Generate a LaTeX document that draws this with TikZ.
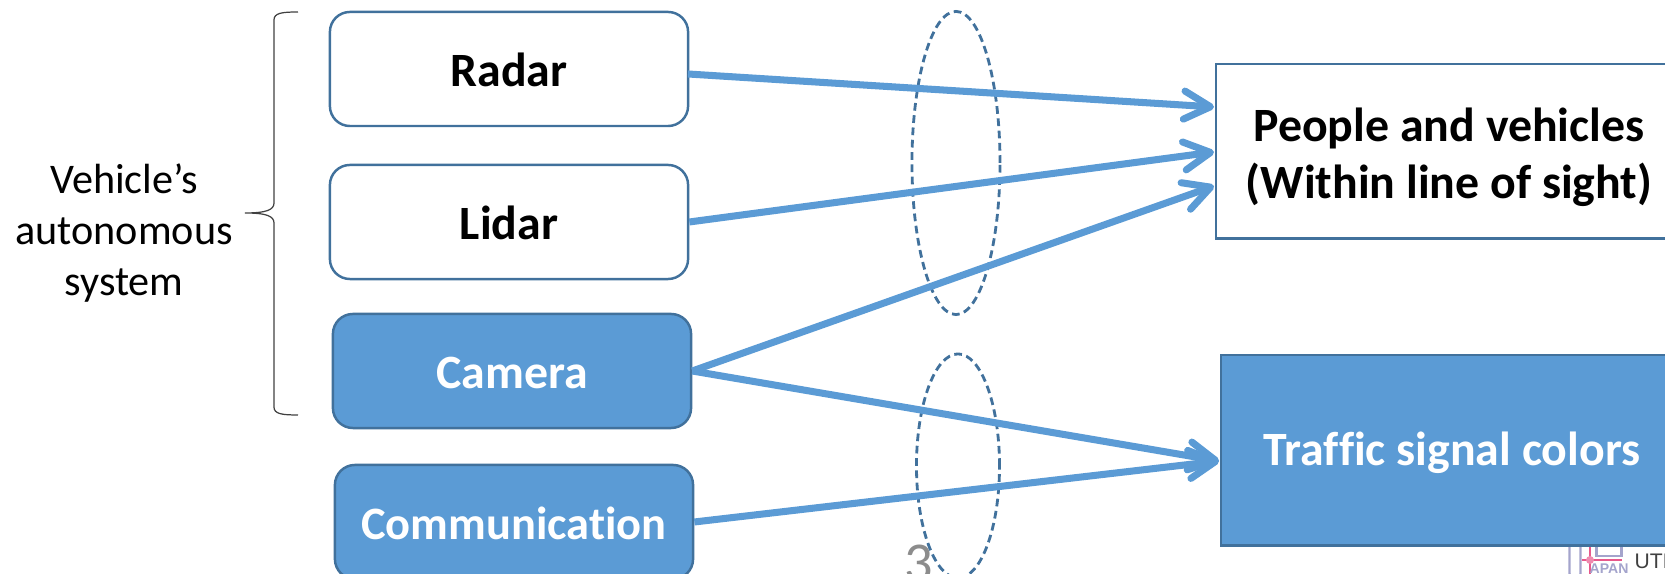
\documentclass[tikz,border=0pt]{standalone}
\usepackage{fontspec}
\setmainfont[Ligatures=NoCommon]{Carlito}
\newfontfamily\logofont{Liberation Sans}
\usepackage{tikz}
\usetikzlibrary{shapes,arrows.meta}
\definecolor{boxBlue}{HTML}{5B9BD5}
\definecolor{edgeBlue}{HTML}{41719C}
\definecolor{logoGray}{HTML}{A4A4CC}
\definecolor{logoPink}{HTML}{E8588C}
\pgfmathsetmacro{\boxWidth}{3.58}
\pgfmathsetmacro{\boxHeight}{1.14}
\tikzset{
	sensor/.style= {
		shape=rectangle, draw=edgeBlue,
		rounded corners=0.2cm, line width=0.7pt,
		minimum width=\boxWidth cm, minimum height=\boxHeight cm,
		inner sep=0, text height=10pt, text depth=0pt
	},
	sensorOn/.style= {
		sensor, fill=boxBlue
	},
	target/.style= {
		shape=rectangle, draw=edgeBlue,
		line width=0.7pt, inner sep=0
	},
	caption/.style= {
		inner sep=0, align=center,
		font=\fontsize{13.6}{15.4}\selectfont\bfseries
	},
	scan/.style= {
		shape=ellipse, draw=edgeBlue,
		dash pattern=on 2.2pt off 1.3pt,
		line width=0.8pt, inner sep=0
	},
	feed/.style= {
		draw=boxBlue, line width=2pt, -{Straight Barb[length=7.5pt,width=8pt,round]}
	}
}
\begin{document}
\begin{tikzpicture}[x=0.01cm,y=-0.01cm]
\path[use as bounding box,clip] (0,0) rectangle (1665,574);

% logo in the corner
\node[draw=logoGray,rounded corners=1pt,line width=0.6pt,minimum width=0.11cm,minimum height=0.5cm,inner sep=0] (logoBar) at (1575,552) {};
\node[draw=logoGray,line width=0.6pt,minimum width=0.25cm,minimum height=0.3cm,inner sep=0] (logoTop) at (1609,541) {};
\draw[logoPink,line width=0.7pt] (1590,530) -- (1590,574) (1582,560) -- (1622,560);
\node[circle,fill=logoPink!70!white,minimum size=0.08cm,inner sep=0] (logoDot) at (1590,560) {};
\node[text=logoGray,inner sep=0,font=\logofont\fontsize{4}{5}\selectfont\bfseries] (logoJapan) at (1609,569) {APAN};
\node[text=black!75,inner sep=0,anchor=west,font=\logofont\fontsize{6}{8}\selectfont] (logoText) at (1634,561) {UTM};

% page number
\node[text=black!45,inner sep=0,font=\fontsize{16}{18}\selectfont] (pageNum) at (919,563) {3};

% dashed rings
\node[scan,minimum width=0.88cm,minimum height=3.03cm] (ringTop) at (956,163) {};
\node[scan,minimum width=0.83cm,minimum height=2.24cm] (ringLow) at (958,466) {};

% left column
\node[sensor,caption] (radar) at (509,69) {Radar};
\node[sensor,caption] (lidar) at (509,222) {Lidar};
\node[sensorOn,caption,text=white] (camera) at (512,371) {Camera};
\node[sensorOn,caption,text=white,font=\fontsize{13.2}{15}\selectfont\bfseries] (comm) at (514,522) {Communication};

% right column
\node[target,minimum width=4.9cm,minimum height=1.74cm,anchor=north west] (people) at (1215,63) {};
\node[caption,font=\fontsize{13.6}{16.1}\selectfont\bfseries] (peopleText) at (1449,157) {People and vehicles\\(Within line of sight)};
\node[target,fill=boxBlue,minimum width=4.9cm,minimum height=1.9cm,anchor=north west] (signal) at (1220,354) {};
\node[caption,text=white] (signalText) at (1452,453) {Traffic signal colors};

\coordinate (radarOut) at (688,74);
\coordinate (peopleA) at (1214,107);
\coordinate (peopleB) at (1214,152);
\coordinate (peopleC) at (1214,186);
\coordinate (signalIn) at (1219,461);

% arrows
\draw[feed] (radarOut) -- (peopleA);
\draw[feed] (lidar.east) -- (peopleB);
\draw[feed] (camera.east) -- (peopleC);
\draw[feed] (camera.east) -- (signalIn);
\draw[feed] (comm.east) -- (signalIn);

% brace with its label
\coordinate (braceTop) at (298,12);
\coordinate (braceMid) at (245,213);
\coordinate (braceEnd) at (298,415);
\draw[black!75,line width=0.35pt] (braceTop) .. controls (282,12) and (274,13) .. (274,20)
	-- (274,203) .. controls (274,210) and (266,213) .. (braceMid)
	.. controls (266,213) and (274,216) .. (274,223)
	-- (274,407) .. controls (274,414) and (282,415) .. (braceEnd);
\node[inner sep=0,align=center,font=\fontsize{12}{14.5}\selectfont] (system) at (124,233) {Vehicle’s\\autonomous\\system};
\end{tikzpicture}
\end{document}
